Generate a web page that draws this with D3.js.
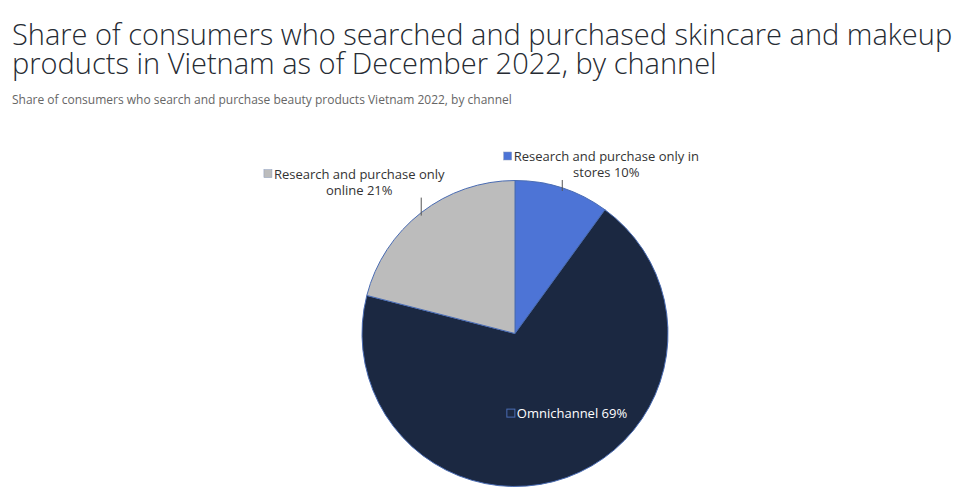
<!DOCTYPE html>
<html>
<head>
<meta charset="utf-8">
<script src="https://cdn.jsdelivr.net/npm/d3@7"></script>
<style>
  body { margin: 0; background: #fff; font-family: "Open Sans", sans-serif; }
</style>
</head>
<body>
<div id="chart"></div>
<script>
const channels = ["Research and purchase only in stores", "Omnichannel", "Research and purchase only online"]
const shares = [10, 69, 21]
const sliceColors = ["#4d74d6", "#1b2841", "#bcbcbc"]

const width = 958, height = 498
const cx = 515, cy = 333.5, radius = 153

const svg = d3.select("#chart").append("svg")
    .attr("width", width)
    .attr("height", height)

// title + subtitle
const titleLines = ["Share of consumers who searched and purchased skincare and makeup",
    "products in Vietnam as of December 2022, by channel"]
titleLines.forEach((l, k) => {
    svg.append("text")
        .attr("x", 12).attr("y", 45 + k * 28.5)
        .attr("font-size", 29)
        .attr("font-weight", 300)
        .attr("fill", "#262b33")
        .text(l)
})

svg.append("text")
    .attr("x", 12).attr("y", 104)
    .attr("font-size", 12)
    .attr("fill", "#666")
    .text("Share of consumers who search and purchase beauty products Vietnam 2022, by channel")

const data = channels.map((c, i) => ({name: c, value: shares[i], color: sliceColors[i]}))

let pie = d3.pie().sort(null).value(d => d.value)
let arc = d3.arc().innerRadius(0).outerRadius(radius)
const arcs = pie(data)

const g = svg.append("g").attr("transform", `translate(${cx},${cy})`)

g.selectAll("path")
    .data(arcs)
    .join("path")
    .attr("fill", d => d.data.color)
    .attr("stroke", "#4a6cb3")
    .attr("stroke-width", 1)
    .attr("d", arc)

// point on the rim at the middle of a slice
const rimPoint = (d, r) => {
    const a = (d.startAngle + d.endAngle) / 2
    return [Math.sin(a) * r, -Math.cos(a) * r]
}

// outside labels with a short vertical leader (the two small slices)
const outside = [
    {i: 0, lines: ["Research and purchase only in", "stores 10%"], dx: 44, lead: 8},
    {i: 2, lines: ["Research and purchase only", "online 21%"], dx: -62, lead: 15}
]

outside.forEach(o => {
    const d = arcs[o.i]
    const [px, py] = rimPoint(d, radius)
    g.append("line")
        .attr("x1", px).attr("x2", px)
        .attr("y1", py + 3).attr("y2", py - o.lead)
        .attr("stroke", "#555").attr("stroke-width", 1)
    const top = py - o.lead - 19
    let firstW = 0
    o.lines.forEach((l, k) => {
        const t = g.append("text")
            .attr("x", px + o.dx).attr("y", top + k * 16)
            .attr("font-size", 13)
            .attr("fill", "#333")
            .attr("text-anchor", "middle")
            .text(l)
        if (k === 0) firstW = t.node().getComputedTextLength()
    })
    g.append("rect")
        .attr("x", px + o.dx - firstW / 2 - 10)
        .attr("y", top - 9)
        .attr("width", 8).attr("height", 8)
        .attr("fill", d.data.color)
        .attr("stroke", "#8a9bbd").attr("stroke-width", 0.5)
})

// inside label for the big slice
const big = arcs[1]
const [bx, by] = rimPoint(big, radius * 0.56)
const inner = g.append("text")
    .attr("x", bx + 28).attr("y", by + 4)
    .attr("font-size", 13)
    .attr("fill", "#fff")
    .attr("text-anchor", "middle")
    .text("Omnichannel 69%")
const iw = inner.node().getComputedTextLength()
g.append("rect")
    .attr("x", bx + 28 - iw / 2 - 10)
    .attr("y", by - 5)
    .attr("width", 8).attr("height", 8)
    .attr("fill", "none")
    .attr("stroke", "#4a6cb3").attr("stroke-width", 1)
</script>
</body>
</html>
